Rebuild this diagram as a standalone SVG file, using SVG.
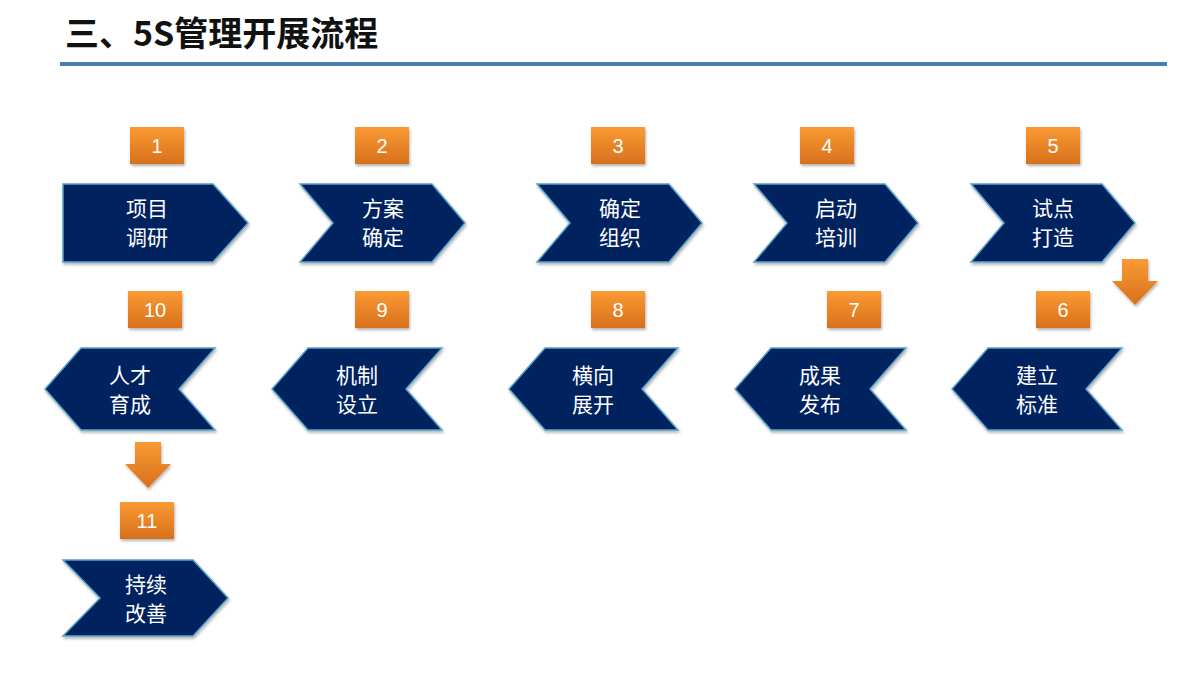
<svg xmlns="http://www.w3.org/2000/svg" width="1200" height="675" viewBox="0 0 1200 675">
<defs>
<linearGradient id="og" x1="0" y1="0" x2="0" y2="1"><stop offset="0" stop-color="#fa9a34"/><stop offset="1" stop-color="#d8701c"/></linearGradient>
<filter id="sh" x="-10%" y="-10%" width="130%" height="130%"><feDropShadow dx="1" dy="2" stdDeviation="1.5" flood-color="#000" flood-opacity="0.3"/></filter>
<style>
.ch{fill:#04205e;stroke:#5aa3c6;stroke-width:1.5;filter:url(#sh)}
.nb{fill:url(#og);filter:url(#sh)}
.nt{font-family:"Liberation Sans",sans-serif;font-size:20px;fill:#fff;text-anchor:middle}
.ct{font-family:"Noto Sans CJK SC",sans-serif;font-size:21px;fill:#fff;text-anchor:middle}
.ar{fill:url(#og);filter:url(#sh)}
</style>
</defs>
<rect width="1200" height="675" fill="#fff"/>
<text x="65" y="46" font-family="Noto Sans CJK SC,sans-serif" font-size="34" font-weight="bold" fill="#111">三、5S管理开展流程</text>
<rect x="60" y="62" width="1107" height="4" fill="#4a7ebb"/>
<g id="connectors">
<path class="ar" d="M1122 259h26v22h10l-23 24l-23-24h10z"/>
<path class="ar" d="M135 442h26v22h10l-23 24l-23-24h10z"/>
</g>
<g id="n1"><rect class="nb" x="130" y="127" width="54" height="37"/><text class="nt" x="157" y="153">1</text>
<path class="ch" d="M63 184h150l35 39l-35 39h-150z"/><text class="ct" x="147" y="216">项目</text><text class="ct" x="147" y="245">调研</text></g>
<g id="n2"><rect class="nb" x="355" y="127" width="54" height="37"/><text class="nt" x="382" y="153">2</text>
<path class="ch" d="M300 184h132l33 39l-33 39h-132l33-39z"/><text class="ct" x="383" y="216">方案</text><text class="ct" x="383" y="245">确定</text></g>
<g id="n3"><rect class="nb" x="591" y="127" width="54" height="37"/><text class="nt" x="618" y="153">3</text>
<path class="ch" d="M537 184h132l33 39l-33 39h-132l33-39z"/><text class="ct" x="620" y="216">确定</text><text class="ct" x="620" y="245">组织</text></g>
<g id="n4"><rect class="nb" x="800" y="127" width="54" height="37"/><text class="nt" x="827" y="153">4</text>
<path class="ch" d="M754 184h131l33 39l-33 39h-131l33-39z"/><text class="ct" x="836" y="216">启动</text><text class="ct" x="836" y="245">培训</text></g>
<g id="n5"><rect class="nb" x="1026" y="127" width="54" height="37"/><text class="nt" x="1053" y="153">5</text>
<path class="ch" d="M971 184h131l33 39l-33 39h-131l33-39z"/><text class="ct" x="1053" y="216">试点</text><text class="ct" x="1053" y="245">打造</text></g>
<g id="n6"><rect class="nb" x="1036" y="291" width="54" height="37"/><text class="nt" x="1063" y="317">6</text>
<path class="ch" d="M1122 348h-134l-36 41l36 41h134l-36-41z"/><text class="ct" x="1037" y="383">建立</text><text class="ct" x="1037" y="412">标准</text></g>
<g id="n7"><rect class="nb" x="827" y="291" width="54" height="37"/><text class="nt" x="854" y="317">7</text>
<path class="ch" d="M906 348h-135l-36 41l36 41h135l-36-41z"/><text class="ct" x="820" y="383">成果</text><text class="ct" x="820" y="412">发布</text></g>
<g id="n8"><rect class="nb" x="591" y="291" width="54" height="37"/><text class="nt" x="618" y="317">8</text>
<path class="ch" d="M678 348h-133l-36 41l36 41h133l-36-41z"/><text class="ct" x="593" y="383">横向</text><text class="ct" x="593" y="412">展开</text></g>
<g id="n9"><rect class="nb" x="355" y="291" width="54" height="37"/><text class="nt" x="382" y="317">9</text>
<path class="ch" d="M442 348h-134l-36 41l36 41h134l-36-41z"/><text class="ct" x="357" y="383">机制</text><text class="ct" x="357" y="412">设立</text></g>
<g id="n10"><rect class="nb" x="128" y="291" width="54" height="37"/><text class="nt" x="155" y="317">10</text>
<path class="ch" d="M215 348h-134l-36 41l36 41h134l-36-41z"/><text class="ct" x="130" y="383">人才</text><text class="ct" x="130" y="412">育成</text></g>
<g id="n11"><rect class="nb" x="120" y="502" width="54" height="37"/><text class="nt" x="147" y="528">11</text>
<path class="ch" d="M63 560h130l35 38l-35 38h-130l37-38z"/><text class="ct" x="146" y="592">持续</text><text class="ct" x="146" y="621">改善</text></g>
</svg>
